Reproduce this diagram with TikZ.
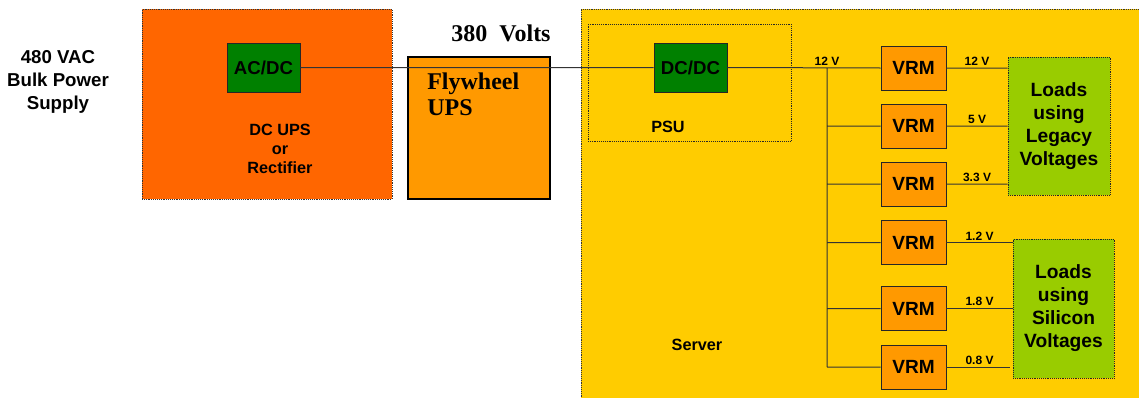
\documentclass[tikz,border=0pt]{standalone}
\usepackage{fontspec}
\setmainfont{Liberation Sans}
\newfontfamily\timesfont{Liberation Serif}
\usepackage{tikz}
\usepackage{xcolor}
\usetikzlibrary{
    calc,
    positioning
}
\definecolor{upsorange}{HTML}{FF6600}
\definecolor{flyorange}{HTML}{FF9900}
\definecolor{srvyellow}{HTML}{FFCC00}
\definecolor{convgreen}{HTML}{008000}
\definecolor{loadgreen}{HTML}{99CC00}

\begin{document}
\begin{tikzpicture}[x=0.75pt, y=-0.75pt,
        conv/.style={draw=black!85, fill=convgreen, inner sep=0,
            minimum width=54.75pt, minimum height=36.75pt,
            font=\bfseries\fontsize{14}{16}\selectfont},
        vrm/.style={draw=black!85, fill=flyorange, inner sep=0,
            minimum width=48.75pt, minimum height=33pt,
            font=\bfseries\fontsize{14.3}{16}\selectfont},
        loads/.style={draw=black!85, densely dotted, fill=loadgreen,
            inner sep=0, align=center,
            font=\bfseries\fontsize{14.4}{17.25}\selectfont},
        lbl/.style={inner sep=0, align=center,
            font=\bfseries\fontsize{12.2}{14.25}\selectfont},
        vlbl/.style={inner sep=1.5pt, above,
            font=\bfseries\fontsize{9}{10}\selectfont},
        wire/.style={draw=black!80, line width=0.75pt}]
                        \useasboundingbox (0,0) rectangle (1139,397);
                        % source side
                        \node[lbl, font=\bfseries\fontsize{14}{17.25}\selectfont] (src) at (58, 82) {480 VAC\\Bulk Power\\Supply};
                        \node[draw=black!80, densely dotted, fill=upsorange, minimum width=187.5pt, minimum height=142.5pt] (ups) at (267, 104) {};
                        \node[conv] (acdc) at (263.5, 67.5) {AC/DC};
                        \node[lbl] (upsl) at (280, 149) {DC UPS\\or\\Rectifier};
                        \node[draw=black, line width=1.5pt, fill=flyorange, minimum width=107pt, minimum height=107pt] (fly) at (479, 128) {};
                        \node[inner sep=0, anchor=north west, align=left, font=\timesfont\bfseries\fontsize{18}{19.5}\selectfont] (flyl) at (427, 73) {Flywheel\\UPS};
                        \node[inner sep=0, font=\timesfont\bfseries\fontsize{18}{20}\selectfont] (volts) at (501, 33) {380~~Volts};
                        % server
                        \node[draw=black!80, densely dotted, fill=srvyellow, minimum width=423pt, minimum height=297pt] (srv) at (863, 207) {};
                        \node[draw=black!85, densely dotted, minimum width=152.25pt, minimum height=87.75pt] (psu) at (689.5, 82.5) {};
                        \node[conv] (dcdc) at (690.5, 67.5) {DC/DC};
                        \node[lbl] (psul) at (668, 127) {PSU};
                        \node[lbl] (srvl) at (697, 345) {Server};
                        \node[vrm] (v1) at (913.5, 68) {VRM};
                        \node[vrm] (v2) at (913.5, 126) {VRM};
                        \node[vrm] (v3) at (913.5, 184) {VRM};
                        \node[vrm] (v4) at (913.5, 242.5) {VRM};
                        \node[vrm] (v5) at (913.5, 308.5) {VRM};
                        \node[vrm] (v6) at (913.5, 367) {VRM};
                        \node[loads, minimum width=76.5pt, minimum height=103.5pt] (ll) at (1059, 126) {Loads\\using\\Legacy\\Voltages};
                        \node[loads, minimum width=75.75pt, minimum height=104.25pt] (ls) at (1063.5, 308.5) {Loads\\using\\Silicon\\Voltages};
                        \coordinate (bus) at (827, 68);
                        \coordinate (busend) at (827, 367);
                        \node[vlbl] (busl) at (bus) {12 V};
                        \draw[wire]
                        (acdc.east) -- (acdc.east -| fly.west)
                        (fly.west |- dcdc.west) -- (dcdc.west)
                        (fly.east |- dcdc.west) -- (dcdc.west)
                        (dcdc.east) -- (v1.west)
                        (bus) -- (busend)
                        (bus |- v2.west) -- (v2.west)
                        (bus |- v3.west) -- (v3.west)
                        (bus |- v4.west) -- (v4.west)
                        (bus |- v5.west) -- (v5.west)
                        (busend) -- (v6.west)
                        (v1.east) -- node[vlbl] {12 V} (v1.east -| ll.west)
                        (v2.east) -- node[vlbl] {5 V} (v2.east -| ll.west)
                        (v3.east) -- node[vlbl] {3.3 V} (v3.east -| ll.west);
                        \draw[wire, shorten >=2pt]
                        (v4.east) -- node[vlbl] {1.2 V} (v4.east -| ls.west)
                        (v5.east) -- node[vlbl] {1.8 V} (v5.east -| ls.west)
                        (v6.east) -- node[vlbl] {0.8 V} (v6.east -| ls.west);
                    \end{tikzpicture}
\end{document}
